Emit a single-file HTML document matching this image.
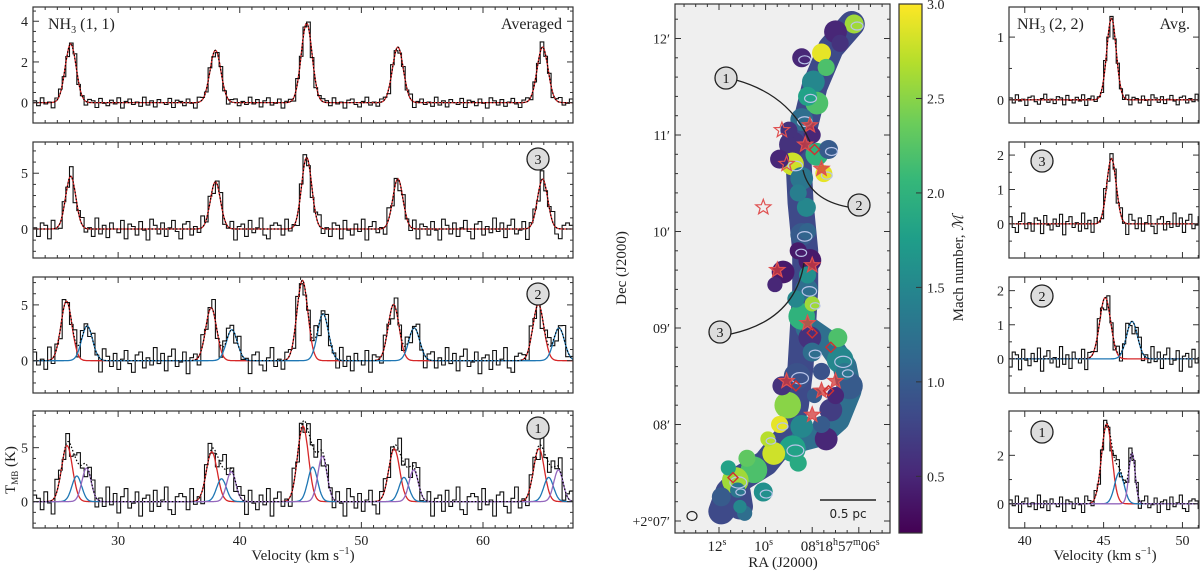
<!DOCTYPE html>
<html><head><meta charset="utf-8"><style>
body{margin:0;background:#fff;}
svg{display:block;font-family:"Liberation Serif","DejaVu Serif",serif;}
</style></head><body>
<svg id="fig" width="1200" height="572" viewBox="0 0 1200 572" xmlns="http://www.w3.org/2000/svg"></svg>
<script>
// ---------- DATA ----------
const hfOffsets = [-19.4, -7.5, 0, 7.5, 19.4];
const hfRel = [0.74, 0.66, 1, 0.7, 0.7];
const noise = [0.3,-0.5,0.8,-0.2,0.1,-0.9,0.4,0.6,-0.3,-0.7,0.2,0.9,-0.4,0.1,-0.6,0.5,0.3,-0.8,0.7,-0.1,
 -0.5,0.4,-0.2,0.8,-0.9,0.2,0.6,-0.3,0.1,-0.6,0.9,-0.4,0.3,-0.7,0.5,0.0,-0.3,0.7,-0.8,0.4,
 0.2,-0.5,0.6,-0.1,-0.9,0.8,0.3,-0.4,0.5,-0.6,0.1,0.7,-0.2,-0.8,0.4,0.6,-0.5,0.2,-0.3,0.9,
 -0.2,0.5,-0.7,0.3,0.8,-0.4,-0.1,0.6,-0.9,0.2,0.4,-0.6,0.7,-0.3,0.1,0.9,-0.5,-0.8,0.3,0.5];
const leftPanelNames = ['Averaged','3','2','1'];
const leftYmin = [-1.0,-2.6,-2.9,-2.45];
const leftYmax = [4.7,7.8,7.5,8.4];
const leftYticks = [[0,2,4],[0,5],[0,5],[0,5]];
const leftNoise = [0.3,1.1,1.3,1.5];
const leftComps = [
 [{v:45.5,a:3.9,s:0.45,c:'#d62728'}],
 [{v:45.5,a:6.4,s:0.42,c:'#d62728'}],
 [{v:45.15,a:7.2,s:0.45,c:'#d62728'},{v:46.85,a:4.2,s:0.45,c:'#1f77b4'}],
 [{v:45.2,a:7.0,s:0.45,c:'#d62728'},{v:46.0,a:3.2,s:0.4,c:'#1f77b4'},{v:46.8,a:4.2,s:0.38,c:'#9467bd'}]
];
const rightYmin = [-0.37,-0.99,-1.0,-1.0];
const rightYmax = [1.48,2.38,2.4,3.83];
const rightYticks = [[0,1],[0,1,2],[0,1,2],[0,2]];
const rightNoise = [0.1,0.35,0.4,0.4];
const rightComps = [
 [{v:45.5,a:1.3,s:0.3,c:'#d62728'}],
 [{v:45.5,a:1.9,s:0.3,c:'#d62728'}],
 [{v:45.1,a:1.8,s:0.35,c:'#d62728'},{v:46.8,a:1.1,s:0.35,c:'#1f77b4'}],
 [{v:45.2,a:3.3,s:0.33,c:'#d62728'},{v:46.0,a:1.3,s:0.3,c:'#1f77b4'},{v:46.8,a:2.1,s:0.2,c:'#9467bd'}]
];
const machTicks = [0.5,1.0,1.5,2.0,2.5,3.0];
const decTicks = ['+2°07′','08′','09′','10′','11′','12′'];
const raTicks = [12,10,8,6];
// filament spine (RA s, Dec arcmin)
const spineRA = [6.3,7.2,7.9,8.3,8.6,8.5,8.3,8.3,8.4,8.5,8.7,9.0,10.0,11.0,11.6,11.9,11.2,11.1];
const spineDec = [12.15,11.9,11.5,11.1,10.8,10.3,9.8,9.4,9.0,8.6,8.2,7.9,7.6,7.45,7.3,7.1,7.3,7.15];
const loopRA = [8.2,7.3,6.6,6.4,6.9,7.6,8.4];
const loopDec = [9.0,8.85,8.6,8.35,8.05,7.9,7.85];
// blobs
const blobRA = [6.2,7.0,7.6,8.45,7.95,7.8,8.45,8.85,7.8,8.85,8.45,8.25,8.45,8.1,9.25,8.25,8.45,8.1,6.8,6.4,7.2,8.65,9.05,8.45,8.85,9.65,10.5,11.3,11.9,10.9,7.3,9.4,6.9,8.0,7.4,9.3,10.1,
 6.8,7.4,8.2,8.0,9.0,7.5,8.6,8.2,8.6,8.2,8.7,8.0,9.6,7.6,6.6,7.0,7.6,9.4,10.8,11.6,9.9,8.6,7.9,11.2,11.1];
const blobDec = [12.15,12.07,11.85,11.8,11.55,11.33,11.16,10.9,10.8,10.7,10.55,10.25,9.97,9.7,9.58,9.4,9.12,8.9,8.67,8.4,8.15,8.5,8.2,7.98,7.75,7.7,7.53,7.42,7.25,7.08,10.85,10.75,8.9,8.75,7.85,8.4,7.3,
 11.95,11.7,11.4,11.0,11.05,10.6,10.4,10.0,9.8,9.55,9.3,9.25,9.45,8.55,8.55,8.3,8.0,8.0,7.65,7.55,7.85,7.6,8.3,7.32,7.15];
const blobR = [10,12,10,10,12,12,12,14,12,12,12,10,12,12,12,12,14,12,14,14,12,14,14,12,14,12,14,14,10,8,10,10,10,10,12,10,10,
 9,9,10,9,9,9,9,9,9,9,9,8,8,9,9,9,9,9,9,8,8,9,8,8,7];
const blobMach = [2.6,0.5,2.9,0.5,1.5,2.2,1.2,0.6,2.0,2.8,1.3,1.5,1.0,0.4,0.4,1.2,2.0,0.6,1.5,1.0,0.7,0.9,2.5,1.5,1.8,2.8,2.2,2.6,1.0,1.2,1.0,0.5,2.2,1.2,0.5,0.6,1.6,
 0.6,2.2,1.8,0.5,0.6,2.9,1.4,1.1,0.4,1.6,1.5,2.6,0.5,0.9,1.3,0.5,1.0,2.9,2.3,1.8,2.7,1.9,1.0,1.3,1.5];
const starRA = [9.3,8.1,8.3,9.1,7.6,10.1,9.5,8.0,8.2,9.1,8.0,7.0,7.6];
const starDec = [11.05,11.1,10.9,10.7,10.65,10.25,9.6,9.65,9.05,8.45,8.1,8.45,8.35];
const starOpen = [1,0,0,1,0,1,0,0,0,0,0,0,0];
const diaRA = [7.9,8.0,7.2,8.7,7.3,11.4];
const diaDec = [10.85,8.95,8.8,8.4,8.35,7.45];

// ---------- helpers ----------
const NS='http://www.w3.org/2000/svg';
const svg=document.getElementById('fig');
function mk(tag,attrs,parent){const e=document.createElementNS(NS,tag);for(const k in attrs)e.setAttribute(k,attrs[k]);(parent||svg).appendChild(e);return e;}
function gauss(x,c){let y=0;const offs=c.hf?hfOffsets:[0];offs.forEach((o,i)=>{const r=c.hf?hfRel[i]:1;y+=c.a*r*Math.exp(-0.5*Math.pow((x-c.v-o)/c.s,2));});return y;}

function drawSpectrum(box,xmin,xmax,ymin,ymax,comps,hf,nAmp,binW,noff,xMajor,xMinor,yt,yMinor,showXlabels,name){
 const g=mk('g',{});
 
 
 const sx=v=>box.x+(v-xmin)/(xmax-xmin)*box.w;
 const sy=v=>box.y+box.h-(v-ymin)/(ymax-ymin)*box.h;
 const cs=comps.map(c=>Object.assign({hf:hf},c));
 const clip=mk('clipPath',{id:'c'+name},g);mk('rect',{x:box.x,y:box.y,width:box.w,height:box.h},clip);
 const inner=mk('g',{'clip-path':'url(#c'+name+')'},g);
 let d='';let i=0;
 for(let v=xmin;v<xmax;v+=binW,i++){const y=cs.reduce((s,c)=>s+gauss(v+binW/2,c),0)+noise[(i+noff)%noise.length]*nAmp;
  d+=(i?'L':'M')+sx(v).toFixed(1)+','+sy(y).toFixed(1)+'L'+sx(v+binW).toFixed(1)+','+sy(y).toFixed(1);}
 const obs=mk('path',{d:d,fill:'none',stroke:'#111','stroke-width':1.1},inner);
 
 
 cs.forEach((c,k)=>{let p='';for(let v=xmin,j=0;v<=xmax;v+=0.05,j++){p+=(j?'L':'M')+sx(v).toFixed(1)+','+sy(gauss(v,c)).toFixed(1);}
  const l=mk('path',{d:p,fill:'none',stroke:c.c,'stroke-width':1.3},inner);
  
  });
 let p='';for(let v=xmin,j=0;v<=xmax;v+=0.05,j++){p+=(j?'L':'M')+sx(v).toFixed(1)+','+sy(cs.reduce((s,c)=>s+gauss(v,c),0)).toFixed(1);}
 const tot=mk('path',{d:p,fill:'none',stroke:'#000','stroke-width':1.2,'stroke-dasharray':'1.5,2'},inner);
 
 
 mk('rect',{x:box.x,y:box.y,width:box.w,height:box.h,fill:'none',stroke:'#333','stroke-width':1.2},g);
 for(let v=Math.ceil(xmin/xMinor)*xMinor;v<=xmax;v+=xMinor){const maj=Math.abs(v/xMajor-Math.round(v/xMajor))<1e-6;const L=maj?6:3;const x=sx(v);
  mk('line',{x1:x,x2:x,y1:box.y+box.h,y2:box.y+box.h-L,stroke:'#333'},g);mk('line',{x1:x,x2:x,y1:box.y,y2:box.y+L,stroke:'#333'},g);
  if(maj&&showXlabels){const t=mk('text',{x:x,y:box.y+box.h+17,'text-anchor':'middle','font-size':14,fill:'#222'},g);t.textContent=Math.round(v);}}
 for(let v=Math.ceil(ymin/yMinor)*yMinor;v<=ymax;v+=yMinor){const y=sy(v);const maj=yt.some(t=>Math.abs(t-v)<1e-6);const L=maj?6:3;
  mk('line',{x1:box.x,x2:box.x+L,y1:y,y2:y,stroke:'#333'},g);mk('line',{x1:box.x+box.w,x2:box.x+box.w-L,y1:y,y2:y,stroke:'#333'},g);}
 yt.forEach(v=>{const t=mk('text',{x:box.x-5,y:sy(v)+5,'text-anchor':'end','font-size':14,fill:'#222'},g);t.textContent=v;});
 return g;
}
function circleLabel(x,y,txt,name,r){const g=mk('g',{});
 mk('circle',{cx:x,cy:y,r:r||11,fill:'#ddd',stroke:'#222','stroke-width':1.3},g);
 const t=mk('text',{x:x,y:y+5,'text-anchor':'middle','font-size':14,fill:'#111'},g);t.textContent=txt;}
function txt(x,y,s,size,name,anchor,rot){const t=mk('text',{x:x,y:y,'font-size':size,'text-anchor':anchor||'start',fill:'#222'});
 if(rot)t.setAttribute('transform','rotate(-90 '+x+' '+y+')');t.innerHTML=s;return t;}

// ---------- left panels ----------
const tops=[7,142,277,411], bots=[123,258,393,528];
tops.forEach((top,k)=>{
 drawSpectrum({x:33,y:top,w:540,h:bots[k]-top},23,67.4,leftYmin[k],leftYmax[k],leftComps[k],true,leftNoise[k],0.3,k*13,10,1,leftYticks[k],k==0?0.5:1,k==3,'nh3-11-panel-'+leftPanelNames[k].toLowerCase());
});
txt(48,29,'NH<tspan font-size="10" dy="4">3</tspan><tspan dy="-4"> (1, 1)</tspan>',16,'nh3-11-title');
txt(562,29,'Averaged',16,'averaged-label','end');
circleLabel(538,159,'3','region-3-label-left');circleLabel(538,294,'2','region-2-label-left');circleLabel(538,428,'1','region-1-label-left');
txt(303,560,'Velocity (km s<tspan font-size="10" dy="-6">−1</tspan><tspan dy="6">)</tspan>',15,'x-axis-title-left','middle');
txt(15,470,'T<tspan font-size="9" dy="3">MB</tspan><tspan dy="-3"> (K)</tspan>',15,'y-axis-title','middle',true);

// ---------- right panels ----------
rightYmin.forEach((ym,k)=>{
 drawSpectrum({x:1009,y:tops[k],w:190,h:bots[k]-tops[k]},39.0,51.05,ym,rightYmax[k],rightComps[k],false,rightNoise[k],0.2,k*7,5,1,rightYticks[k],k==3?1:0.5,k==3,'nh3-22-panel-'+leftPanelNames[k].toLowerCase());
});
txt(1017,29,'NH<tspan font-size="10" dy="4">3</tspan><tspan dy="-4"> (2, 2)</tspan>',16,'nh3-22-title');
txt(1190,29,'Avg.',16,'avg-label','end');
circleLabel(1042,161,'3','region-3-label-right');circleLabel(1042,296,'2','region-2-label-right');circleLabel(1042,432,'1','region-1-label-right');
txt(1105,560,'Velocity (km s<tspan font-size="10" dy="-6">−1</tspan><tspan dy="6">)</tspan>',15,'x-axis-title-right','middle');

// ---------- map ----------
const MX=675,MY=4,MW=215,MH=529;
const ra2x=s=>719+(12-s)*23.3;
const dec2y=d=>521-(d-7)*96.5;
const vir=[[68,1,84],[72,40,120],[62,74,137],[49,104,142],[38,130,142],[31,158,137],[53,183,121],[109,205,89],[180,222,44],[253,231,37]];
function viridis(m){let t=Math.max(0,Math.min(1,(m-0.2)/2.8))*9;const i=Math.min(8,Math.floor(t)),f=t-i;const a=vir[i],b=vir[i+1];return 'rgb('+a.map((v,j)=>Math.round(v+(b[j]-v)*f)).join(',')+')';}
const mapG=mk('g',{});
mk('rect',{x:MX,y:MY,width:MW,height:MH,fill:'#efefef'},mapG);
const defs=mk('defs',{});
const mc=mk('clipPath',{id:'mapclip'},defs);mk('rect',{x:MX,y:MY,width:MW,height:MH},mc);
const blobG=mk('g',{'clip-path':'url(#mapclip)'},mapG);
const spine=mk('polyline',{points:spineRA.map((s,i)=>ra2x(s)+','+dec2y(spineDec[i])).join(' '),fill:'none',stroke:'#3e4a89','stroke-width':26,'stroke-linejoin':'round','stroke-linecap':'round'},blobG);


const loop=mk('polyline',{points:loopRA.map((s,i)=>ra2x(s)+','+dec2y(loopDec[i])).join(' '),fill:'none',stroke:'#2f6f8e','stroke-width':24,'stroke-linejoin':'round','stroke-linecap':'round'},blobG);


blobRA.forEach((s,i)=>{const e=mk('ellipse',{cx:ra2x(s),cy:dec2y(blobDec[i]),rx:blobR[i]*0.95,ry:blobR[i]*0.95,fill:viridis(blobMach[i])},blobG);
 
 });
blobRA.forEach((s,i)=>{if(i%3==0){const e=mk('ellipse',{cx:ra2x(s)+3,cy:dec2y(blobDec[i])+2,rx:blobR[i]*0.6,ry:blobR[i]*0.4,fill:'none',stroke:'#b8c4e8','stroke-width':1.2},blobG);
 
 }});
function starPath(cx,cy,R){let p='';for(let k=0;k<10;k++){const r=k%2?R*0.42:R;const a=-Math.PI/2+k*Math.PI/5;p+=(k?'L':'M')+(cx+r*Math.cos(a)).toFixed(1)+','+(cy+r*Math.sin(a)).toFixed(1);}return p+'Z';}
starRA.forEach((s,i)=>{const e=mk('path',{d:starPath(ra2x(s),dec2y(starDec[i]),8),fill:starOpen[i]?'none':'rgba(214,60,60,0.75)',stroke:'#e05050','stroke-width':1.2},blobG);
 
 });
diaRA.forEach((s,i)=>{const x=ra2x(s),y=dec2y(diaDec[i]);const e=mk('path',{d:`M${x},${y-5}L${x+5},${y}L${x},${y+5}L${x-5},${y}Z`,fill:'none',stroke:'#d03030','stroke-width':1.4},blobG);
 
 });
[['M736,80 Q790,95 810,142'],['M848,207 Q810,200 803,170'],['M731,334 Q795,320 804,263']].forEach((d,i)=>{const e=mk('path',{d:d[0],fill:'none',stroke:'#222','stroke-width':1.3},mapG);
 
 });
circleLabel(726,78,'1','region-1-map-label',11);circleLabel(859,205,'2','region-2-map-label',11);circleLabel(720,332,'3','region-3-map-label',11);
mk('ellipse',{cx:692,cy:516,rx:5,ry:4.5,fill:'none',stroke:'#222','stroke-width':1.2},mapG);
mk('line',{x1:820,x2:876,y1:500,y2:500,stroke:'#222','stroke-width':1.5},mapG);
const sb=txt(848,518,'0.5 pc',12,'scale-bar-label','middle');sb.setAttribute('font-family','DejaVu Sans, sans-serif');
mk('rect',{x:MX,y:MY,width:MW,height:MH,fill:'none',stroke:'#333','stroke-width':1.2},mapG);
decTicks.forEach((l,i)=>{const y=dec2y(7+i);mk('line',{x1:MX,x2:MX+6,y1:y,y2:y,stroke:'#333'});mk('line',{x1:MX+MW,x2:MX+MW-6,y1:y,y2:y,stroke:'#333'});
 txt(670,y+5,l,14,'dec-tick-label','end');
 for(let q=1;q<5;q++){const yy=y-q*19.3;if(yy>MY){mk('line',{x1:MX,x2:MX+3,y1:yy,y2:yy,stroke:'#333'});mk('line',{x1:MX+MW,x2:MX+MW-3,y1:yy,y2:yy,stroke:'#333'});}}});
for(let s=14;s>=4;s-=0.5){const x=ra2x(s);if(x<MX||x>MX+MW)continue;const L=(s%2==0)?6:3;mk('line',{x1:x,x2:x,y1:MY+MH,y2:MY+MH-L,stroke:'#333'});mk('line',{x1:x,x2:x,y1:MY,y2:MY+L,stroke:'#333'});}
raTicks.forEach(s=>{const x=ra2x(s);
 if(s==6){txt(818,551,'18<tspan font-size="10" dy="-6">h</tspan><tspan dy="6">57</tspan><tspan font-size="10" dy="-6">m</tspan><tspan dy="6">06</tspan><tspan font-size="10" dy="-6">s</tspan>',15,'ra-tick-label','start');}
 else{txt(x-2,551,('0'+s).slice(-2)+'<tspan font-size="10" dy="-6">s</tspan>',15,'ra-tick-label','middle');}});
txt(783,567,'RA (J2000)',15,'x-axis-title-map','middle');
txt(626,268,'Dec (J2000)',15,'y-axis-title-map','middle',true);

// ---------- colorbar ----------
const cbG=mk('g',{});
const lg=mk('linearGradient',{id:'vg',x1:0,y1:1,x2:0,y2:0},defs);
vir.forEach((c,i)=>mk('stop',{offset:(i/9),'stop-color':'rgb('+c.join(',')+')'},lg));
mk('rect',{x:899,y:4,width:23,height:529,fill:'url(#vg)',stroke:'#333','stroke-width':1.2},cbG);
const m2y=m=>533-(m-0.2)/2.8*529;
machTicks.forEach(m=>{const y=m2y(m);mk('line',{x1:916,x2:922,y1:y,y2:y,stroke:'#333'},cbG);txt(927,y+5,m.toFixed(1),14,'colorbar-tick-label');});
txt(963,268,'Mach number, <tspan font-style="italic">ℳ</tspan>',15,'colorbar-title','middle',true);
</script>
</body></html>
